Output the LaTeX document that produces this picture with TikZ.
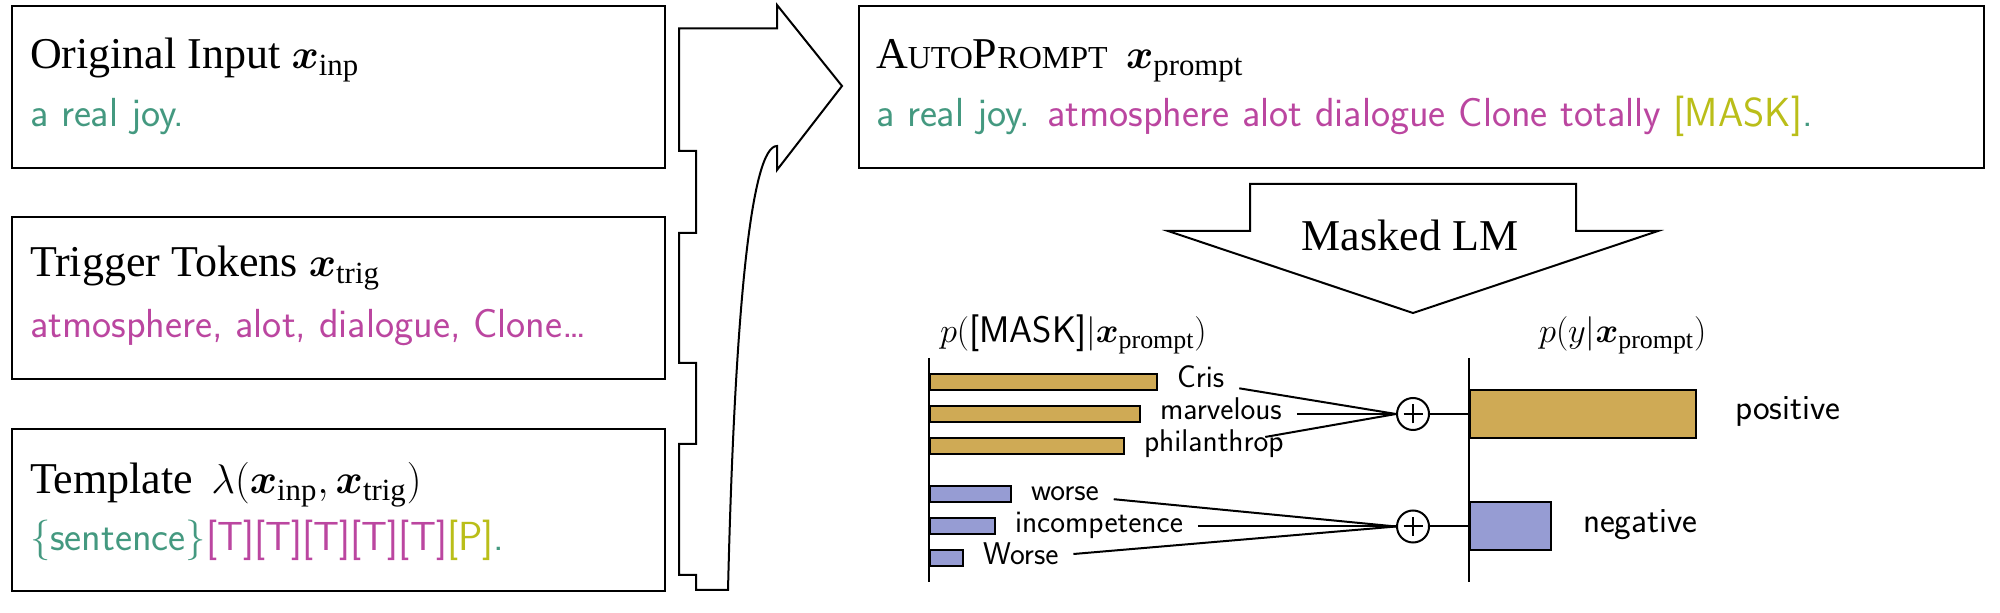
\documentclass[tikz,border=0pt]{standalone}
\usepackage{amsmath}
\usepackage{fontspec}
\setmainfont{Liberation Serif}
\usetikzlibrary{positioning,calc}
\definecolor{inpgreen}{RGB}{68,153,128}
\definecolor{trigpink}{RGB}{187,70,160}
\definecolor{maskolive}{RGB}{186,190,25}
\definecolor{posgold}{RGB}{207,170,85}
\definecolor{negblue}{RGB}{150,156,211}
\newcommand{\xb}{\boldsymbol{x}}
\newcommand{\fakesc}[1]{{\fontsize{16}{19}\selectfont #1}}
\tikzset{
    panel/.style={draw,anchor=north west,inner sep=0,minimum width=326.5pt,minimum height=81pt},
    headtext/.style={anchor=base west,inner sep=0,font=\fontsize{22}{26}\selectfont},
    bodytext/.style={anchor=base west,inner sep=0,font=\sffamily\fontsize{20.3}{24}\selectfont},
    charttitle/.style={anchor=base west,inner sep=0,font=\fontsize{18.5}{22}\selectfont},
    probbar/.style={draw,anchor=west,inner sep=0,minimum height=8pt,minimum width=#1},
    tokword/.style={inner xsep=7pt,inner ysep=0pt,text height=1.5ex,text depth=.25ex,font=\sffamily\fontsize{15.7}{18}\selectfont},
    verdict/.style={inner sep=0,text height=1.5ex,text depth=.25ex,font=\sffamily\fontsize{17.7}{21}\selectfont},
    sumnode/.style={circle,draw,inner sep=0,minimum size=16pt,
        path picture={\draw ($(path picture bounding box.center)-(4.75pt,0)$) -- +(9.5pt,0)
            ($(path picture bounding box.center)-(0,4.75pt)$) -- +(0,9.5pt);}}
}

\begin{document}
\begin{tikzpicture}[x=0.5pt,y=-0.5pt,line width=1pt]
    \useasboundingbox (0,0) rectangle (2000,613);

    \node[panel] (inp) at (11,5) {};
    \node[headtext] (inp-head) at (29,69) {Original Input $\xb_{\mathrm{inp}}$};
    \node[bodytext,text=inpgreen] (inp-body) at (29,127) {a real joy.};

    \node[panel] (trig) at (11,216) {};
    \node[headtext] (trig-head) at (29,277) {Trigger Tokens $\xb_{\mathrm{trig}}$};
    \node[bodytext,text=trigpink] (trig-body) at (29,338) {atmosphere, alot, dialogue, Clone\dots};

    \node[panel] (tmpl) at (11,428) {};
    \node[headtext] (tmpl-head) at (29,494) {Template~\,$\lambda(\xb_{\mathrm{inp}},\xb_{\mathrm{trig}})$};
    \node[bodytext] (tmpl-body) at (29,551) {\textcolor{inpgreen}{\{sentence\}}\textcolor{trigpink}{[T][T][T][T][T]}\textcolor{maskolive}{[P]}\textcolor{inpgreen}{.}};

    \draw[line join=miter] (679,28.5) -- (777,28.5) -- (777,5) -- (842,86) -- (777,170) -- (777,146)
        .. controls (752,146) and (735,300) .. (728,590) -- (696,590) -- (696,575) -- (679,575)
        -- (679,444) -- (696,444) -- (696,363) -- (679,363) -- (679,233) -- (696,233) -- (696,151)
        -- (679,151) -- cycle;

    \node[panel,minimum width=562.5pt] (prompt) at (858,5) {};
    \node[headtext] (prompt-head) at (875,69) {A\fakesc{UTO}P\fakesc{ROMPT}~\,$\xb_{\mathrm{prompt}}$};
    \node[bodytext] (prompt-body) at (875,127) {\textcolor{inpgreen}{a real joy.} \textcolor{trigpink}{atmosphere alot dialogue Clone totally} \textcolor{maskolive}{[MASK]}\textcolor{inpgreen}{.}};

    \draw[line join=miter] (1250,184) -- (1576,184) -- (1576,231) -- (1658,231) -- (1413,313)
        -- (1168,231) -- (1250,231) -- cycle;
    \node[headtext,anchor=base] (mlm) at (1410,251) {Masked LM};

    \node[charttitle] (mask-title) at (939,343) {$p(\text{\sffamily [MASK]}|\xb_{\mathrm{prompt}})$};
    \node[charttitle] (label-title) at (1538,343) {$p(y|\xb_{\mathrm{prompt}})$};
    \draw (929,358) -- (929,582);
    \draw (1469,358) -- (1469,582);

    \node[probbar=113.5pt,fill=posgold] (cris-bar) at (929,382) {};
    \node[probbar=105pt,fill=posgold] (marv-bar) at (929,414) {};
    \node[probbar=97pt,fill=posgold] (phil-bar) at (929,446) {};
    \node[probbar=40.5pt,fill=negblue] (worse-bar) at (929,494.5) {};
    \node[probbar=32.5pt,fill=negblue] (incomp-bar) at (929,526.5) {};
    \node[probbar=16.5pt,fill=negblue] (Worse-bar) at (929,558.5) {};

    \node[tokword,right=2pt of cris-bar] (cris) {Cris};
    \node[tokword,right=2pt of marv-bar] (marv) {marvelous};
    \node[tokword,right=2pt of phil-bar] (phil) {philanthrop};
    \node[tokword,right=2pt of worse-bar] (worse) {worse};
    \node[tokword,right=2pt of incomp-bar] (incomp) {incompetence};
    \node[tokword,right=2pt of Worse-bar] (Worse) {Worse};

    \node[sumnode] (pos-sum) at (1413,414) {};
    \node[sumnode] (neg-sum) at (1413,526.5) {};
    \draw (cris) -- (pos-sum.west);
    \draw (marv) -- (pos-sum.west);
    \draw (phil) -- (pos-sum.west);
    \draw (worse) -- (neg-sum.west);
    \draw (incomp) -- (neg-sum.west);
    \draw (Worse) -- (neg-sum.west);

    \node[probbar=113pt,minimum height=24pt,fill=posgold] (pos-bar) at (1469,414) {};
    \node[probbar=40.5pt,minimum height=24pt,fill=negblue] (neg-bar) at (1469,526.5) {};
    \draw (pos-sum) -- (pos-bar);
    \draw (neg-sum) -- (neg-bar);
    \node[verdict,right=18.5pt of pos-bar] (pos-label) {positive};
    \node[verdict,right=15pt of neg-bar] (neg-label) {negative};
\end{tikzpicture}
\end{document}
